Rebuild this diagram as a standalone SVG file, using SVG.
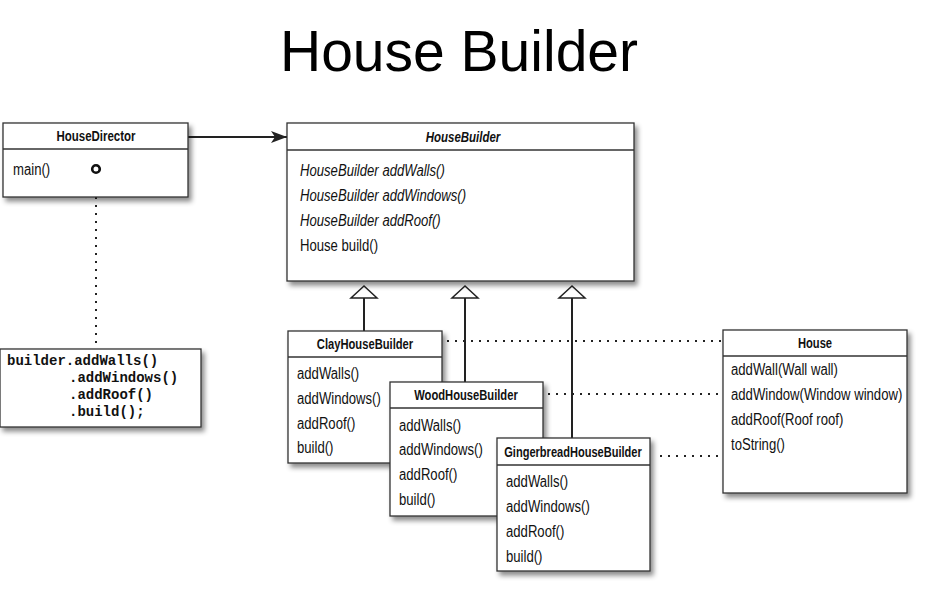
<svg xmlns="http://www.w3.org/2000/svg" width="926" height="590" viewBox="0 0 926 590">
<style>
.box{fill:#fff;stroke:#333;stroke-width:1.3;filter:url(#sh)}
.sep{stroke:#333;stroke-width:1.3}
.hd{font-family:"Liberation Sans",Arial,sans-serif;font-weight:bold;font-size:14px;fill:#111;text-anchor:middle}
.m{font-family:"Liberation Sans",Arial,sans-serif;font-size:16px;fill:#111}
.it{font-style:italic}
.code{font-family:"Liberation Mono","Courier New",monospace;font-weight:bold;font-size:14px;fill:#111}
.solid{stroke:#222;stroke-width:2;fill:none}
.dot{stroke:#222;stroke-width:2;fill:none;stroke-dasharray:2 6}
.tri{fill:#fff;stroke:#222;stroke-width:1.5}
</style>
<defs>
<filter id="sh" x="-10%" y="-10%" width="130%" height="140%">
<feDropShadow dx="3" dy="4" stdDeviation="2.5" flood-color="#000" flood-opacity="0.45"/>
</filter>
<marker id="arr" markerWidth="18" markerHeight="12" refX="16" refY="6" orient="auto" markerUnits="userSpaceOnUse">
<path d="M0,0 L16,6 L0,12 L4,6 Z" fill="#222"/>
</marker>
</defs>
<rect width="926" height="590" fill="#fff"/>
<text x="459" y="71" font-family="'Liberation Sans',Arial,sans-serif" font-size="57" text-anchor="middle" fill="#000">House Builder</text>

<g id="connectors">
<line class="solid" x1="188" y1="137" x2="287" y2="137" marker-end="url(#arr)"/>
<line class="dot" x1="96" y1="181" x2="96" y2="349"/>
<line class="solid" x1="364" y1="298" x2="364" y2="331"/>
<line class="solid" x1="465" y1="298" x2="465" y2="382"/>
<line class="solid" x1="572" y1="298" x2="572" y2="438"/>
<polygon class="tri" points="364,286 351,298 377,298"/>
<polygon class="tri" points="465,286 452,298 478,298"/>
<polygon class="tri" points="572,286 559,298 585,298"/>
<line class="dot" x1="447" y1="341" x2="722" y2="341"/>
<line class="dot" x1="548" y1="394" x2="722" y2="394"/>
<line class="dot" x1="660" y1="456" x2="722" y2="456"/>
</g>

<g id="HouseDirector">
<rect class="box" x="3" y="123" width="185" height="74"/>
<line class="sep" x1="3" y1="149" x2="188" y2="149"/>
<text class="hd" transform="translate(96 141) scale(0.82 1)">HouseDirector</text>
<text class="m" transform="translate(13 175) scale(0.82 1)">main()</text>
<circle cx="96" cy="169" r="3.8" fill="#fff" stroke="#111" stroke-width="2.6"/>
</g>

<g id="code">
<rect class="box" x="0" y="349" width="201" height="78"/>
<text class="code" x="7" y="365">builder.addWalls()</text>
<text class="code" x="69" y="382">.addWindows()</text>
<text class="code" x="69" y="399">.addRoof()</text>
<text class="code" x="69" y="416">.build();</text>
</g>

<g id="HouseBuilder">
<rect class="box" x="287" y="123" width="347" height="158"/>
<line class="sep" x1="287" y1="150" x2="634" y2="150"/>
<text class="hd it" transform="translate(463 142) scale(0.82 1)">HouseBuilder</text>
<text class="m it" transform="translate(300 176) scale(0.82 1)">HouseBuilder addWalls()</text>
<text class="m it" transform="translate(300 201) scale(0.82 1)">HouseBuilder addWindows()</text>
<text class="m it" transform="translate(300 226) scale(0.82 1)">HouseBuilder addRoof()</text>
<text class="m" transform="translate(300 251) scale(0.82 1)">House build()</text>
</g>

<g id="ClayHouseBuilder">
<rect class="box" x="288" y="331" width="154" height="132"/>
<line class="sep" x1="288" y1="357" x2="442" y2="357"/>
<text class="hd" transform="translate(365 349) scale(0.8 1)">ClayHouseBuilder</text>
<text class="m" transform="translate(297 379) scale(0.82 1)">addWalls()</text>
<text class="m" transform="translate(297 404) scale(0.82 1)">addWindows()</text>
<text class="m" transform="translate(297 429) scale(0.82 1)">addRoof()</text>
<text class="m" transform="translate(297 453) scale(0.82 1)">build()</text>
</g>

<g id="WoodHouseBuilder">
<rect class="box" x="390" y="382" width="153" height="134"/>
<line class="sep" x1="390" y1="408" x2="543" y2="408"/>
<text class="hd" transform="translate(466 400) scale(0.8 1)">WoodHouseBuilder</text>
<text class="m" transform="translate(399 431) scale(0.82 1)">addWalls()</text>
<text class="m" transform="translate(399 455) scale(0.82 1)">addWindows()</text>
<text class="m" transform="translate(399 480) scale(0.82 1)">addRoof()</text>
<text class="m" transform="translate(399 505) scale(0.82 1)">build()</text>
</g>

<g id="GingerbreadHouseBuilder">
<rect class="box" x="497" y="438" width="153" height="133"/>
<line class="sep" x1="497" y1="465" x2="650" y2="465"/>
<text class="hd" transform="translate(573 457) scale(0.79 1)">GingerbreadHouseBuilder</text>
<text class="m" transform="translate(506 487) scale(0.82 1)">addWalls()</text>
<text class="m" transform="translate(506 512) scale(0.82 1)">addWindows()</text>
<text class="m" transform="translate(506 537) scale(0.82 1)">addRoof()</text>
<text class="m" transform="translate(506 562) scale(0.82 1)">build()</text>
</g>

<g id="House">
<rect class="box" x="723" y="330" width="184" height="163"/>
<line class="sep" x1="723" y1="356" x2="907" y2="356"/>
<text class="hd" transform="translate(815 348) scale(0.8 1)">House</text>
<text class="m" transform="translate(731 375) scale(0.82 1)">addWall(Wall wall)</text>
<text class="m" transform="translate(731 400) scale(0.82 1)">addWindow(Window window)</text>
<text class="m" transform="translate(731 425) scale(0.82 1)">addRoof(Roof roof)</text>
<text class="m" transform="translate(731 450) scale(0.82 1)">toString()</text>
</g>
</svg>
